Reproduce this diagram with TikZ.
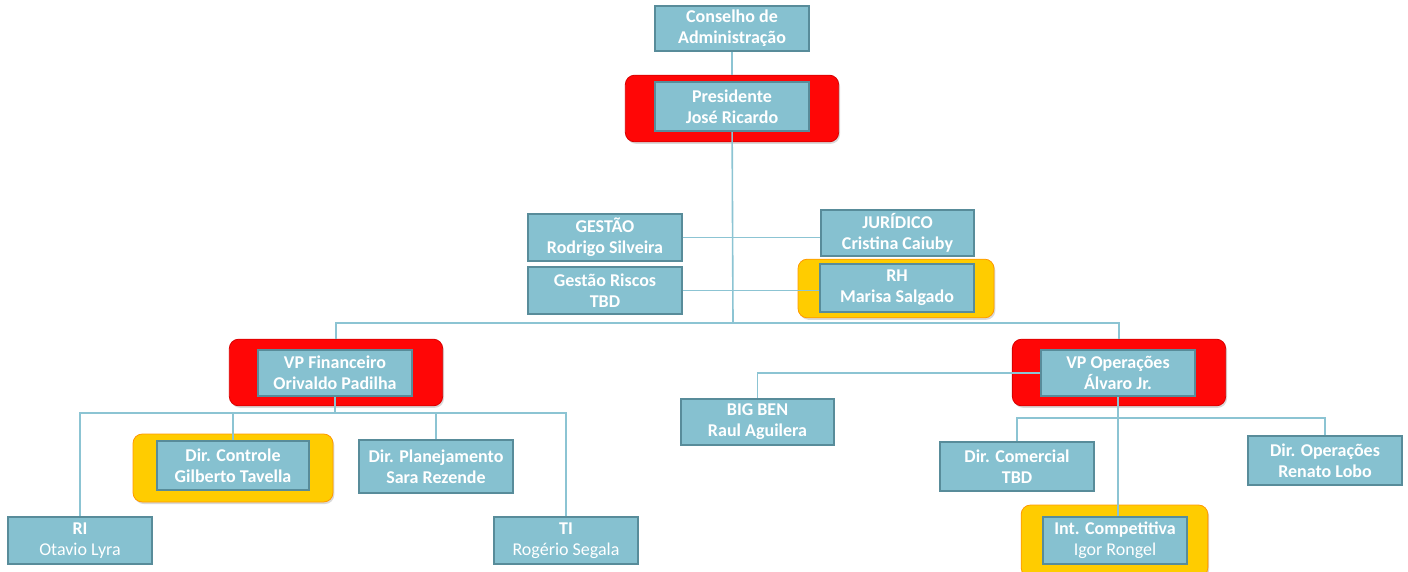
\documentclass[tikz,border=0pt]{standalone}
\usepackage{fontspec}
\setmainfont{Carlito}
\usepackage{tikz}
\usetikzlibrary{shadows}
\definecolor{boxfill}{RGB}{134,193,208}
\definecolor{boxline}{RGB}{88,140,154}
\definecolor{linkline}{RGB}{140,196,211}
\definecolor{redframe}{RGB}{255,6,6}
\definecolor{goldframe}{RGB}{255,204,0}

\begin{document}
\begin{tikzpicture}[x=0.75pt,y=-0.75pt,
    org_box/.style={rectangle,draw=boxline,fill=boxfill,line width=1.5pt,text=white,align=center,
        font=\bfseries\fontsize{13.5}{15.75}\selectfont,minimum width=115pt,minimum height=35pt,inner sep=0pt},
    red_frame/.style={rectangle,rounded corners=7pt,fill=redframe,draw=red!85!black,line width=0.6pt,
        minimum width=160pt,minimum height=50pt,drop shadow={opacity=0.3,shadow xshift=1pt,shadow yshift=-1.5pt}},
    gold_frame/.style={rectangle,rounded corners=7pt,fill=goldframe,draw=orange!80!yellow,line width=0.6pt,
        drop shadow={opacity=0.3,shadow xshift=1pt,shadow yshift=-1.5pt}},
    link/.style={draw=linkline,line width=1.2pt}]
    \useasboundingbox (0,0) rectangle (1408,571);
    \node[red_frame] (presF) at (732,108.5) {};
    \node[red_frame] (vpfF) at (336,372.5) {};
    \node[red_frame] (vpoF) at (1119,372.5) {};
    \node[gold_frame,minimum width=147pt,minimum height=44pt] (rhF) at (896,288.5) {};
    \node[gold_frame,minimum width=150pt,minimum height=51pt] (ctrlF) at (233,468) {};
    \node[gold_frame,minimum width=140pt,minimum height=54pt] (intF) at (1114.5,541) {};

    \node[org_box,minimum height=34pt] (cons) at (732,28.5) {Conselho de\\Administração};
    \node[org_box,minimum height=37pt] (pres) at (732,106.5) {Presidente\\José Ricardo};
    \node[org_box] (gest) at (605,237.5) {GESTÃO\\Rodrigo Silveira};
    \node[org_box] (jur) at (897.5,233) {JURÍDICO\\Cristina Caiuby};
    \node[org_box] (risc) at (605,290.5) {Gestão Riscos\\TBD};
    \node[org_box,minimum height=36pt] (rh) at (897,288) {RH\\Marisa Salgado};
    \node[org_box] (vpf) at (335,373) {VP Financeiro\\Orivaldo Padilha};
    \node[org_box] (vpo) at (1118,373) {VP Operações\\Álvaro Jr.};
    \node[org_box] (big) at (757.5,422) {BIG BEN\\Raul Aguilera};
    \node[org_box,minimum width=114pt,minimum height=37pt] (ctrl) at (233,465.5) {Dir. Controle\\Gilberto Tavella};
    \node[org_box,minimum height=40pt] (plan) at (436,466.5) {Dir. Planejamento\\Sara Rezende};
    \node[org_box,minimum width=108pt] (ri) at (80,540.5) {RI\\\mdseries Otavio Lyra};
    \node[org_box,minimum width=108pt] (ti) at (566,540.5) {TI\\\mdseries Rogério Segala};
    \node[org_box,minimum height=37pt] (com) at (1017,466.5) {Dir. Comercial\\TBD};
    \node[org_box,minimum height=37pt] (dops) at (1325,460.5) {Dir. Operações\\Renato Lobo};
    \node[org_box,minimum width=108pt] (int) at (1115,540.5) {Int. Competitiva\\\mdseries Igor Rongel};

    \coordinate (busT) at (733,323);
    \coordinate (busF) at (335,413);
    \coordinate (busO) at (1118,418);

    \draw[link] (cons) -- (presF);
    \draw[link] (pres) -- (busT);
    \draw[link] (vpfF) |- (busT) -| (vpoF);
    \draw[link] (gest.east) -- (gest.east -| jur.west);
    \draw[link] (risc.east) -- (risc.east -| rh.west);
    \draw[link] (vpf) -- (busF);
    \draw[link] (ri) |- (busF) -| (ti);
    \draw[link] (ctrl) -- (ctrl |- busF);
    \draw[link] (plan) -- (plan |- busF);
    \draw[link] (vpo) -| (big);
    \draw[link] (vpo.south) -- (vpo.south |- int.north);
    \draw[link] (com) |- (busO) -| (dops);
\end{tikzpicture}
\end{document}
